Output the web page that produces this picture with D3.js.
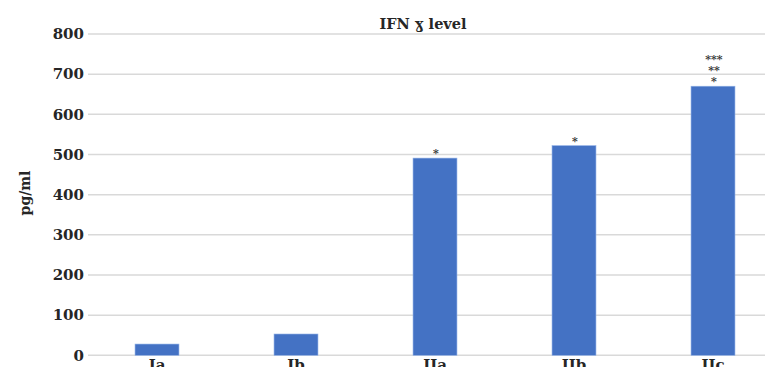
<!DOCTYPE html>
<html><head><meta charset="utf-8">
<script src="https://cdn.jsdelivr.net/npm/d3@7"></script>
<style>body{margin:0;background:#fff;}svg{display:block;}</style>
</head><body>
<script>
const categories = ["Ia", "Ib", "IIa", "IIb", "IIc"];
const values = [28, 53, 491, 522, 670];
const marks = ["", "", "*", "*", "***\n**\n*"];
const yTicks = [0, 100, 200, 300, 400, 500, 600, 700, 800];
const title = "IFN ɣ level";
const yTitle = "pg/ml";

const W = 765, H = 367;
const svg = d3.select("body").append("svg").attr("width", W).attr("height", H);
const font = "'DejaVu Serif', serif";
const x = d3.scaleBand().domain(categories).range([87.5, 782.5]).paddingInner(0.684).paddingOuter(0.342);
const y = d3.scaleLinear().domain([0, 800]).range([355.3, 34]);

const yAxis = d3.axisLeft(y).tickValues(yTicks).tickSize(0).tickPadding(4);
const gy = svg.append("g").attr("transform", "translate(88,0)").call(yAxis);
gy.select(".domain").remove();
gy.selectAll("text").attr("font-family", font).attr("font-weight", "bold").attr("font-size", 15).attr("fill", "#262626");
svg.append("g").selectAll("line").data(yTicks).join("line")
  .attr("x1", 88).attr("x2", W).attr("y1", d => y(d)).attr("y2", d => y(d))
  .attr("stroke", "#d9d9d9").attr("stroke-width", 1.5);

svg.append("g").selectAll("rect").data(categories).join("rect")
  .attr("x", d => x(d)).attr("width", x.bandwidth())
  .attr("y", (d, i) => y(values[i])).attr("height", (d, i) => y(0) - y(values[i]))
  .attr("fill", "#4472c4").attr("stroke", "#8fb0e6").attr("stroke-width", 0.6);

const xAxis = d3.axisBottom(x).tickSize(0).tickPadding(0);
const gx = svg.append("g").attr("transform", "translate(0,356)").call(xAxis);
gx.select(".domain").remove();
gx.selectAll("text").attr("dy", null).attr("y", 14).attr("font-family", font).attr("font-weight", "bold").attr("font-size", 15).attr("fill", "#262626");

categories.forEach((c, i) => {
  if (!marks[i]) return;
  const lines = marks[i].split("\n");
  const n = lines.length;
  lines.forEach((t, j) => {
    svg.append("text")
      .attr("x", x(c) + x.bandwidth() / 2 + 1)
      .attr("y", y(values[i]) - 1 - (n - 1 - j) * 11)
      .attr("text-anchor", "middle")
      .attr("font-family", font).attr("font-weight", "bold").attr("font-size", 11).attr("fill", "#333")
      .text(t);
  });
});

svg.append("text").attr("x", 423).attr("y", 29).attr("text-anchor", "middle")
  .attr("font-family", font).attr("font-weight", "bold").attr("font-size", 14.5).attr("fill", "#262626").text(title);

svg.append("text").attr("transform", "translate(30,193) rotate(-90)").attr("text-anchor", "middle")
  .attr("font-family", font).attr("font-weight", "bold").attr("font-size", 14).attr("fill", "#262626").text(yTitle);
</script>
</body></html>
